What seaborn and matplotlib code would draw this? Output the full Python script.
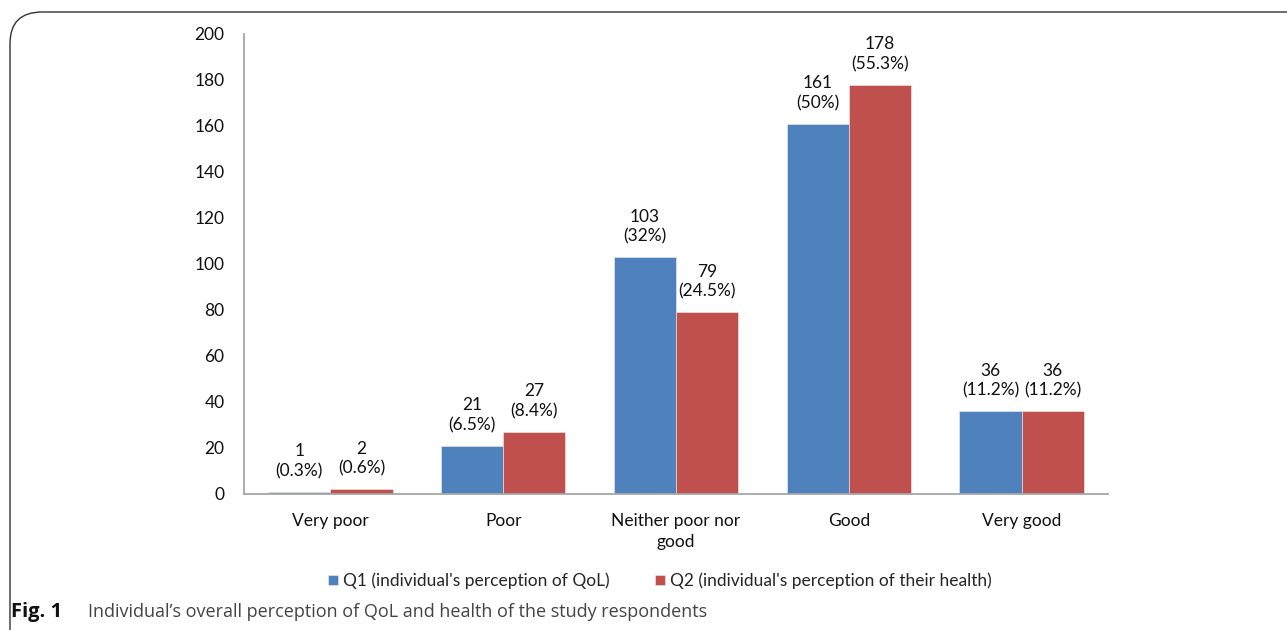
import matplotlib
matplotlib.use("Agg")
import matplotlib.pyplot as plt
from matplotlib.patches import FancyBboxPatch
import seaborn as sns
import pandas as pd

categories = ["Very poor", "Poor", "Neither poor nor\ngood", "Good", "Very good"]
series_names = ["Q1 (individual's perception of QoL)",
                "Q2 (individual's perception of their health)"]
q1_counts = [1, 21, 103, 161, 36]
q2_counts = [2, 27, 79, 178, 36]
q1_pct = ["0.3%", "6.5%", "32%", "50%", "11.2%"]
q2_pct = ["0.6%", "8.4%", "24.5%", "55.3%", "11.2%"]
y_ticks = list(range(0, 201, 20))

df = pd.DataFrame({
    "category": categories * 2,
    "series": [series_names[0]] * 5 + [series_names[1]] * 5,
    "count": q1_counts + q2_counts,
})

sns.set_style("white")
plt.rcParams["font.family"] = ["Lato", "DejaVu Sans"]

fig = plt.figure(figsize=(12.87, 6.30), dpi=100)
ax = fig.add_axes([0.1896, 0.2159, 0.6713, 0.7302])

sns.barplot(data=df, x="category", y="count", hue="series", order=categories,
            hue_order=series_names, palette=["#4F81BD", "#C0504D"],
            width=0.72, edgecolor="#eeeeee", linewidth=0.4, ax=ax,
            saturation=1, legend=True)

ax.set_ylim(0, 200)
ax.set_yticks(y_ticks)
ax.set_xlim(-0.5, 4.5)
ax.set_xlabel("")
ax.set_ylabel("")
ax.tick_params(axis="both", length=0, labelsize=12.5, colors="#111111")
ax.tick_params(axis="y", pad=14)
ax.tick_params(axis="x", pad=14)
for lbl in ax.get_xticklabels():
    lbl.set_linespacing(1.35)
for side in ["top", "right"]:
    ax.spines[side].set_visible(False)
for side in ["left", "bottom"]:
    ax.spines[side].set_color("#a6a6a6")
    ax.spines[side].set_linewidth(1.3)

for cont, counts, pcts in zip(ax.containers, [q1_counts, q2_counts], [q1_pct, q2_pct]):
    labels = [f"{c}\n({p})" for c, p in zip(counts, pcts)]
    ax.bar_label(cont, labels=labels, padding=9, fontsize=12.5,
                 linespacing=1.3, color="#111111")

handles, labs = ax.get_legend_handles_labels()
ax.legend_.remove()
fig.legend(handles, labs, loc="center", bbox_to_anchor=(660 / 1287, 1 - 581 / 630),
           ncol=2, frameon=False, fontsize=12.5, handlelength=0.55, handleheight=0.55,
           handletextpad=0.3, columnspacing=2.6)

# outer frame with rounded top-left corner
frame = FancyBboxPatch((10 / 1287, -0.05), 1.1, 1 - 12 / 630 + 0.05,
                       boxstyle="round,pad=0,rounding_size=0.025",
                       transform=fig.transFigure, fill=False,
                       edgecolor="#333333", linewidth=1.0, mutation_aspect=2.0)
fig.patches.append(frame)

fig.text(11 / 1287, 1 - 612 / 630, "Fig. 1", fontsize=14.5, fontweight="bold",
         va="center", ha="left", color="#111111", family=["Open Sans", "DejaVu Sans"])
fig.text(88 / 1287, 1 - 612 / 630,
         "Individual\u2019s overall perception of QoL and health of the study respondents",
         fontsize=13, va="center", ha="left", color="#444444",
         family=["Open Sans", "DejaVu Sans"])

fig.savefig("out.png", dpi=100)
